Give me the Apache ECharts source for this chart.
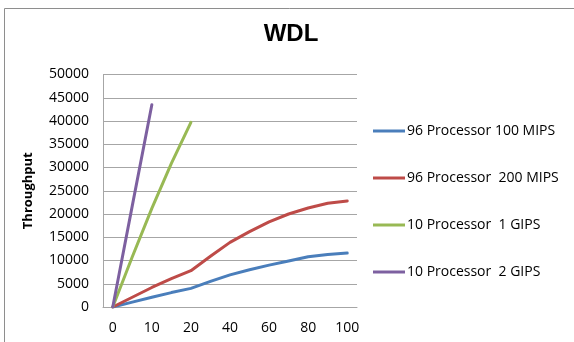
<!DOCTYPE html>
<html>
<head>
<meta charset="utf-8">
<title>WDL</title>
<script src="https://cdn.jsdelivr.net/npm/echarts@6/dist/echarts.min.js"></script>
<style>
  html, body { margin: 0; padding: 0; background: #ffffff; }
  #chart { width: 574px; height: 342px; }
</style>
</head>
<body>
<div id="chart"></div>
<script>
// Workload sizes (x axis categories); every other one is labelled
const categories = ['0', '5', '10', '15', '20', '30', '40', '50', '60', '70', '80', '90', '100'];

// Throughput per configuration
const seriesNames = [
  '96 Processor 100 MIPS',
  '96 Processor  200 MIPS',
  '10 Processor  1 GIPS',
  '10 Processor  2 GIPS'
];
const proc96_100mips = [0, 1050, 2100, 3100, 4000, 5500, 6900, 8000, 9000, 9900, 10800, 11300, 11600];
const proc96_200mips = [0, 2100, 4200, 6100, 7800, 10900, 13900, 16200, 18300, 20000, 21300, 22300, 22800];
const proc10_1gips = [0, 10800, 21200, 30900, 39700, null, null, null, null, null, null, null, null];
const proc10_2gips = [0, 21800, 43500, null, null, null, null, null, null, null, null, null, null];

// Y axis scale
const yMin = 0;
const yMax = 50000;
const yStep = 5000;

const colors = ['#4a7ebb', '#be4b48', '#98b954', '#7d60a0'];
const labelFont = '"Open Sans", "Liberation Sans", sans-serif';

const chart = echarts.init(document.getElementById('chart'), null, { renderer: 'canvas' });

const seriesData = [proc96_100mips, proc96_200mips, proc10_1gips, proc10_2gips];

chart.setOption({
  animation: false,
  color: colors,
  title: {
    text: 'WDL',
    left: 291,
    top: 22,
    padding: 0,
    textAlign: 'center',
    textStyle: {
      fontFamily: '"Liberation Sans", Arial, sans-serif',
      fontWeight: 'bold',
      fontSize: 24,
      color: '#000000'
    }
  },
  graphic: [{
    type: 'rect',
    silent: true,
    z: -1,
    shape: { x: 4.5, y: 8.5, width: 700, height: 500 },
    style: { fill: 'none', stroke: '#8e8e8e', lineWidth: 1 }
  }],
  legend: {
    orient: 'vertical',
    left: 373,
    top: 123,
    padding: 0,
    itemWidth: 32,
    itemHeight: 3,
    itemGap: 31,
    icon: 'rect',
    textStyle: {
      fontFamily: labelFont,
      fontSize: 14,
      lineHeight: 16,
      color: '#000000',
      padding: [0, 0, 0, -3]
    },
    data: seriesNames
  },
  grid: {
    left: 103,
    top: 74.5,
    width: 254,
    height: 232.5,
    containLabel: false
  },
  xAxis: {
    type: 'category',
    data: categories,
    boundaryGap: true,
    axisLine: { show: true, lineStyle: { color: '#a6a6a6', width: 1 } },
    axisTick: { show: false },
    axisLabel: {
      interval: 1,
      margin: 14,
      fontFamily: labelFont,
      fontSize: 14,
      color: '#000000'
    },
    splitLine: { show: false }
  },
  yAxis: {
    type: 'value',
    min: yMin,
    max: yMax,
    interval: yStep,
    name: 'Throughput',
    nameLocation: 'middle',
    nameGap: 68,
    nameRotate: 90,
    nameTextStyle: {
      fontFamily: labelFont,
      fontWeight: 'bold',
      fontSize: 13,
      color: '#000000'
    },
    axisLine: { show: true, lineStyle: { color: '#a6a6a6', width: 1 } },
    axisTick: { show: false },
    axisLabel: {
      margin: 14,
      formatter: (v) => String(v),
      fontFamily: labelFont,
      fontSize: 14,
      color: '#000000'
    },
    splitLine: { show: true, lineStyle: { color: '#a6a6a6', width: 1 } }
  },
  series: seriesNames.map((name, i) => ({
    name: name,
    type: 'line',
    data: seriesData[i],
    showSymbol: false,
    symbol: 'none',
    smooth: false,
    connectNulls: false,
    lineStyle: { width: 3, color: colors[i], join: 'round', cap: 'round' },
    itemStyle: { color: colors[i] }
  }))
});
</script>
</body>
</html>
